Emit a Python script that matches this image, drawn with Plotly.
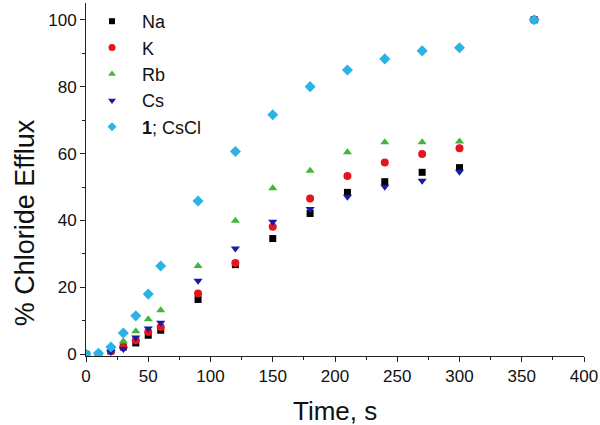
import plotly.graph_objects as go

time = [0, 10, 20, 30, 40, 50, 60, 90, 120, 150, 180, 210, 240, 270, 300, 360]
na = [0, 0, 1.0, 2.2, 3.4, 5.7, 7.2, 16.4, 26.8, 34.6, 42.1, 48.4, 51.6, 54.4, 55.8, 100]
k = [0, 0, 1.0, 2.2, 4.2, 6.7, 8.2, 18.2, 27.3, 38.1, 46.6, 53.3, 57.3, 59.9, 61.6, 100]
rb = [0, 0, 1.5, 3.9, 6.9, 10.5, 13.2, 26.4, 39.9, 49.6, 54.9, 60.4, 63.4, 63.4, 63.6, 100]
cs = [0, 0, 0.7, 1.6, 5.0, 7.7, 9.4, 22.0, 31.6, 39.6, 43.4, 47.1, 50.1, 51.9, 54.6, 100]
cscl = [0, 0.3, 2.2, 6.4, 11.5, 18.0, 26.4, 45.8, 60.6, 71.6, 80.0, 85.0, 88.3, 90.7, 91.6, 100]

x_ticks = [0, 50, 100, 150, 200, 250, 300, 350, 400]
y_ticks = [0, 20, 40, 60, 80, 100]

series = [
    ("Na", na, "square", "#000000", 7, 6),
    ("K", k, "circle", "#e3161e", 8, 7),
    ("Rb", rb, "triangle-up", "#3fb83a", 8, 7),
    ("Cs", cs, "triangle-down", "#1a1aa8", 8, 7),
    ("<b>1</b>; CsCl", cscl, "diamond", "#29b3e6", 8.5, 7),
]

fig = go.Figure()
for name, vals, sym, col, sz, lsz in series:
    fig.add_trace(go.Scatter(
        x=time, y=vals, mode="markers", name=name, showlegend=False,
        marker=dict(symbol=sym, color=col, size=sz, line=dict(width=0)),
    ))
for name, vals, sym, col, sz, lsz in series:
    fig.add_trace(go.Scatter(
        x=[None], y=[None], mode="markers", name=name, showlegend=True,
        marker=dict(symbol=sym, color=col, size=lsz, line=dict(width=0)),
    ))

font = "Arial, Liberation Sans, sans-serif"
axis_common = dict(
    ticks="outside", ticklen=5, tickwidth=1, tickcolor="#222",
    showline=True, linecolor="#222", linewidth=1,
    showgrid=False, zeroline=False, automargin=False,
    tickfont=dict(size=17, color="#111"),
)
fig.update_layout(
    width=600, height=425,
    margin=dict(l=86, r=16, t=3, b=69),
    paper_bgcolor="white", plot_bgcolor="white",
    font=dict(family=font, color="#111", size=17),
    showlegend=True,
    legend=dict(x=-0.008, y=1.0, xanchor="left", yanchor="top",
                font=dict(size=18, family=font, color="#111"),
                bgcolor="rgba(0,0,0,0)", tracegroupgap=0, itemwidth=50),
    xaxis=dict(range=[0, 400], tickvals=x_ticks,
               minor=dict(tickvals=[25, 75, 125, 175, 225, 275, 325, 375], ticks="outside", ticklen=3, tickcolor="#222"),
               **axis_common),
    yaxis=dict(range=[-0.5, 105], tickvals=y_ticks,
               minor=dict(tickvals=[10, 30, 50, 70, 90], ticks="outside", ticklen=3, tickcolor="#222"),
               **axis_common),
    annotations=[
        dict(text="Time, s", xref="paper", yref="paper", x=0.5, y=-0.157,
             xanchor="center", yanchor="middle", showarrow=False,
             font=dict(size=26, family=font, color="#111")),
        dict(text="% Chloride Efflux", xref="paper", yref="paper", x=-0.123, y=0.378,
             xanchor="center", yanchor="middle", showarrow=False, textangle=-90,
             font=dict(size=27, family=font, color="#111")),
    ],
)

fig.write_html("out.html", config={"displayModeBar": False},
               post_script="document.body.style.margin='0';")
